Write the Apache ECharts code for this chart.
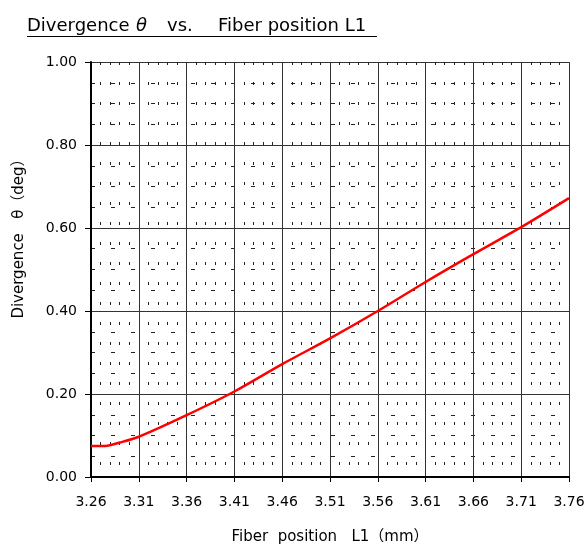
<!DOCTYPE html>
<html>
<head>
<meta charset="utf-8">
<script src="https://cdn.jsdelivr.net/npm/echarts@6/dist/echarts.min.js"></script>
<style>html,body{margin:0;padding:0;background:#fff;}#c{width:588px;height:550px;}</style>
</head>
<body>
<div id="c"></div>
<script>
// Data
var xValues = [3.26, 3.275, 3.29, 3.31, 3.36, 3.41, 3.46, 3.51, 3.56, 3.61, 3.66, 3.71, 3.76];
var divergence = [0.075, 0.075, 0.083, 0.097, 0.149, 0.206, 0.272, 0.334, 0.400, 0.470, 0.537, 0.602, 0.672];
var xTickLabels = ['3.26','3.31','3.36','3.41','3.46','3.51','3.56','3.61','3.66','3.71','3.76'];
var yTickLabels = ['0.00','0.20','0.40','0.60','0.80','1.00'];
var xStart = 3.26;

var FONT = '"DejaVu Sans", "Noto Sans CJK JP", sans-serif';
var chart = echarts.init(document.getElementById('c'), null, {renderer: 'canvas'});
var seriesData = xValues.map(function (x, i) { return [Math.round((x - xStart) * 100000) / 1000, divergence[i]]; });

chart.setOption({
  animation: false,
  backgroundColor: '#fff',
  grid: {left: 91, right: 19, top: 62, bottom: 73, containLabel: false, outerBoundsMode: 'none'},
  graphic: [
    {type: 'text', x: 27, y: 26, style: {text: 'Divergence', font: '18px ' + FONT, fill: '#000', verticalAlign: 'middle'}},
    {type: 'text', x: 136, y: 26, style: {text: 'θ', font: 'italic 18px ' + FONT, fill: '#000', verticalAlign: 'middle'}},
    {type: 'text', x: 167, y: 26, style: {text: 'vs.', font: '18px ' + FONT, fill: '#000', verticalAlign: 'middle'}},
    {type: 'text', x: 218, y: 26, style: {text: 'Fiber position L1', font: '18px ' + FONT, fill: '#000', verticalAlign: 'middle'}},
    {type: 'line', shape: {x1: 27, y1: 36.5, x2: 377, y2: 36.5}, style: {stroke: '#000', lineWidth: 1.2}},
    {type: 'text', x: 19, y: 235, rotation: Math.PI / 2, style: {text: 'Divergence   θ（deg）', font: '15px ' + FONT, fill: '#000', align: 'center', verticalAlign: 'middle'}}
  ],
  xAxis: {
    type: 'value', min: 0, max: 50, interval: 5,
    name: 'Fiber  position   L1（mm）', nameLocation: 'middle', nameGap: 53,
    nameTextStyle: {fontFamily: FONT, fontSize: 15, color: '#000'},
    axisLine: {show: true, onZero: false, lineStyle: {color: '#000', width: 2}},
    axisTick: {show: true, inside: false, length: 5, lineStyle: {color: '#000', width: 1}},
    axisLabel: {margin: 18, fontFamily: FONT, fontSize: 14, color: '#000',
      formatter: function (v) { return xTickLabels[Math.round(v / 5)]; }},
    splitLine: {show: true, lineStyle: {color: '#333', width: 1}},
    minorTick: {show: false, splitNumber: 5},
    minorSplitLine: {show: true, lineStyle: {color: '#222', width: 1, type: [3, 17], dashOffset: 0}}
  },
  yAxis: {
    type: 'value', min: 0, max: 1, interval: 0.2,
    axisLine: {show: true, onZero: false, lineStyle: {color: '#000', width: 2}},
    axisTick: {show: true, inside: false, length: 6, lineStyle: {color: '#000', width: 1}},
    axisLabel: {margin: 14, fontFamily: FONT, fontSize: 14, color: '#000',
      formatter: function (v) { return yTickLabels[Math.round(v / 0.2)]; }},
    splitLine: {show: true, lineStyle: {color: '#333', width: 1}},
    minorTick: {show: false, splitNumber: 4},
    minorSplitLine: {show: true, lineStyle: {color: '#222', width: 1, type: [4, 16], dashOffset: 0}}
  },
  series: [{
    type: 'line', data: seriesData, showSymbol: false, smooth: 0.3,
    lineStyle: {color: '#ff0000', width: 2.5}, z: 5
  }]
});
</script>
</body>
</html>
